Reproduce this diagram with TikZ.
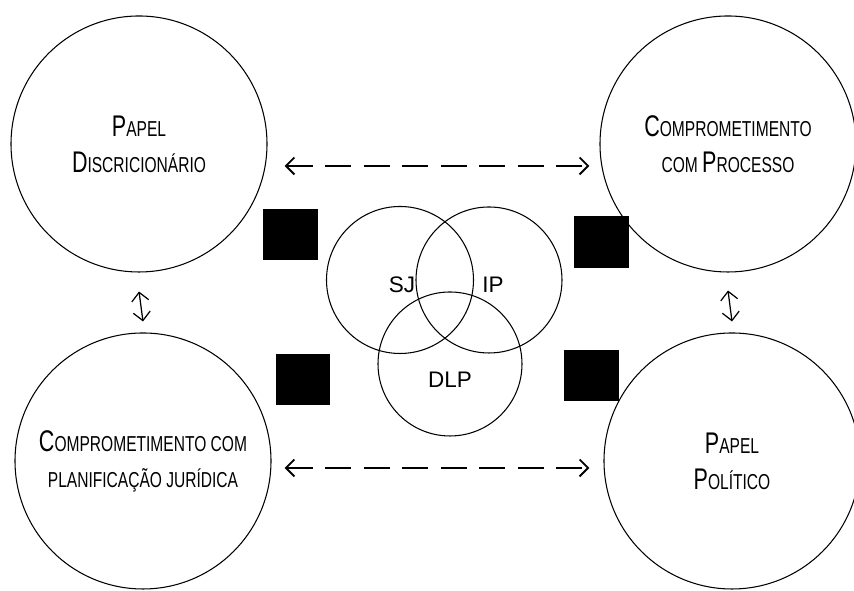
\documentclass[tikz,border=0pt]{standalone}
\usepackage{fontspec}
\usepackage{tikz}
\usetikzlibrary{arrows.meta}

\newfontfamily\capsfont[FakeStretch=0.72]{Liberation Sans}
\newfontfamily\vennfont{Liberation Sans}
% petites capitales faites a la main
\newcommand{\pcap}[2]{{\fontsize{17}{20.4}\selectfont #1}{\fontsize{12.3}{20.4}\selectfont #2}}

\begin{document}
\begin{tikzpicture}[x=2mm, y=2mm,
   >={Straight Barb[length=1.7mm, width=3.4mm]},
   bigcircle/.style={draw, circle, line width=0.6pt, inner sep=0pt,
                     minimum size=51.2mm, align=center, font=\capsfont\fontsize{17}{20.4}\selectfont},
   dasharrow/.style={<->, line width=1.1pt, dash pattern=on 5.2mm off 2.5mm},
   vennlabel/.style={font=\vennfont\fontsize{12.8}{14}\selectfont}]

\useasboundingbox (0,0) rectangle (85.4,59.1);

%grands cercles
\node [bigcircle] (pd) at (13.9,44.7) {\pcap{P}{APEL}\\\pcap{D}{ISCRICIONÁRIO}};
\node [bigcircle] (cp) at (72.8,44.7) {\pcap{C}{OMPROMETIMENTO}\\\pcap{}{COM }\pcap{P}{ROCESSO}};
\node [bigcircle] (cj) at (14.3,13.0) {\pcap{C}{OMPROMETIMENTO COM}\\\pcap{}{PLANIFICAÇÃO JURÍDICA}};
\node [bigcircle] (pp) at (73.2,13.0) {\pcap{P}{APEL}\\\pcap{P}{OLÍTICO}};

%fleches
\draw [dasharrow] ([shift={(1.7,-2.2)}]pd.east) -- ([shift={(-1.0,-2.2)}]cp.west);
\draw [dasharrow] ([shift={(1.3,-0.7)}]cj.east) -- ([shift={(-1.4,-0.7)}]pp.west);
\draw [<->, line width=0.7pt] ([yshift=-3.8mm]pd.south) -- ([yshift=2.2mm]cj.north);
\draw [<->, line width=0.7pt] ([yshift=-3.6mm]cp.south) -- ([yshift=2.2mm]pp.north);

%venn
\draw [line width=0.6pt] (40.0,31.1) circle (7.35);
\draw [line width=0.6pt] (48.9,31.1) circle (7.3);
\draw [line width=0.6pt] (45.0,22.7) circle (7.2);
\node [vennlabel] (sj) at (40.2,30.6) {SJ};
\node [vennlabel] (ip) at (49.3,30.6) {IP};
\node [vennlabel] (dlp) at (45.0,21.1) {DLP};

%carres noirs
\fill (26.3,38.2) rectangle (31.8,33.1);
\fill (27.6,23.7) rectangle (33.0,18.6);
\fill (57.4,37.5) rectangle (62.9,32.3);
\fill (56.4,24.1) rectangle (61.9,19.0);

\end{tikzpicture}
\end{document}
